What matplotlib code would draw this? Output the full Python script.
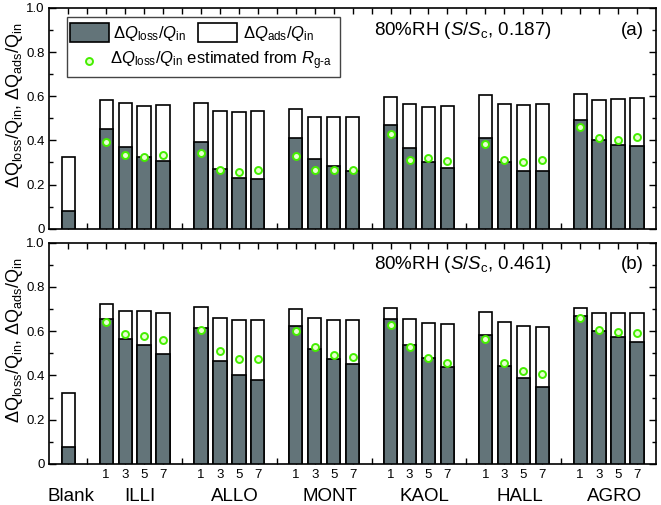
import matplotlib
matplotlib.use("Agg")
import matplotlib.pyplot as plt
from matplotlib.patches import Rectangle
from matplotlib.transforms import blended_transform_factory
from matplotlib.ticker import MultipleLocator
from matplotlib.lines import Line2D

plt.rcParams['font.family'] = ['Liberation Sans', 'DejaVu Sans']
plt.rcParams['mathtext.fontset'] = 'custom'
plt.rcParams['mathtext.rm'] = 'Liberation Sans'
plt.rcParams['mathtext.it'] = 'Liberation Sans:italic'

# donnees
groupes = ['ILLI', 'ALLO', 'MONT', 'KAOL', 'HALL', 'AGRO']
tailles = ['1', '3', '5', '7']

# panneau (a) : S/Sc = 0.187
blank_ads_a = 0.326
blank_loss_a = 0.080
ads_a = [0.581, 0.569, 0.557, 0.560,
         0.570, 0.534, 0.531, 0.534,
         0.543, 0.507, 0.504, 0.507,
         0.597, 0.564, 0.551, 0.555,
         0.606, 0.567, 0.560, 0.563,
         0.609, 0.584, 0.587, 0.590]
loss_a = [0.452, 0.368, 0.323, 0.309,
          0.394, 0.271, 0.232, 0.226,
          0.409, 0.314, 0.282, 0.261,
          0.469, 0.364, 0.302, 0.275,
          0.412, 0.300, 0.261, 0.261,
          0.493, 0.403, 0.380, 0.373]
est_a = [0.391, 0.332, 0.327, 0.332,
         0.344, 0.267, 0.258, 0.267,
         0.330, 0.264, 0.268, 0.264,
         0.427, 0.311, 0.321, 0.309,
         0.382, 0.311, 0.300, 0.311,
         0.460, 0.413, 0.401, 0.415]

# panneau (b) : S/Sc = 0.461
blank_ads_b = 0.322
blank_loss_b = 0.077
ads_b = [0.724, 0.691, 0.690, 0.681,
         0.708, 0.660, 0.651, 0.648,
         0.699, 0.660, 0.648, 0.648,
         0.703, 0.654, 0.636, 0.631,
         0.687, 0.639, 0.622, 0.619,
         0.703, 0.681, 0.681, 0.682]
loss_b = [0.655, 0.566, 0.538, 0.498,
          0.616, 0.464, 0.404, 0.377,
          0.623, 0.520, 0.474, 0.450,
          0.655, 0.539, 0.479, 0.440,
          0.583, 0.443, 0.387, 0.349,
          0.670, 0.602, 0.572, 0.550]
est_b = [0.642, 0.586, 0.580, 0.559,
         0.607, 0.508, 0.476, 0.473,
         0.601, 0.529, 0.491, 0.483,
         0.627, 0.529, 0.480, 0.456,
         0.566, 0.455, 0.419, 0.407,
         0.657, 0.605, 0.598, 0.590]

GRIS = '#637479'
VERT = '#44ee00'
LW = 1.2

# positions : Blank en 0, puis groupes de 4 barres separes par un vide
pos = [2 + 5 * g + i for g in range(len(groupes)) for i in range(len(tailles))]


def panneau(ax, blank_ads, blank_loss, ads, loss, est, texte, lettre):
    ax.bar([0] + pos, [blank_ads] + ads, width=0.7, color='white',
           edgecolor='black', linewidth=LW, zorder=2)
    ax.bar([0] + pos, [blank_loss] + loss, width=0.7, color=GRIS,
           edgecolor='black', linewidth=LW, zorder=3)
    ax.plot(pos, est, ls='none', marker='o', ms=5, mfc='#e8ffd0',
            mec=VERT, mew=1.4, zorder=4)
    ax.set_xlim(-1, 31)
    ax.set_ylim(0, 1.0)
    ax.yaxis.set_major_locator(MultipleLocator(0.2))
    ax.yaxis.set_minor_locator(MultipleLocator(0.1))
    ax.set_yticks([0, 0.2, 0.4, 0.6, 0.8, 1.0])
    ax.set_yticklabels(['0', '0.2', '0.4', '0.6', '0.8', '1.0'])
    ax.set_xticks(range(0, 31))
    ax.tick_params(axis='both', which='both', direction='in', top=True,
                   right=True, labelsize=9.5, width=1)
    ax.tick_params(axis='y', which='major', length=5)
    ax.tick_params(axis='y', which='minor', length=3)
    ax.tick_params(axis='x', which='major', length=4)
    for s in ax.spines.values():
        s.set_linewidth(1.2)
    ax.set_ylabel(r'$\mathit{Δ}$Q$_{\rm loss}$/Q$_{\rm in}$, '
                  r'$\mathit{Δ}$Q$_{\rm ads}$/Q$_{\rm in}$', fontsize=13)
    ax.yaxis.set_label_coords(-0.040, 0.56)
    ax.text(0.535, 0.9, texte, transform=ax.transAxes, fontsize=13.5,
            ha='left', va='center')
    ax.text(0.98, 0.9, lettre, transform=ax.transAxes, fontsize=13.5,
            ha='right', va='center')


fig = plt.figure(figsize=(6.61, 5.05), dpi=100)
ax1 = fig.add_axes([0.0746, 0.5471, 0.9178, 0.4371])
ax2 = fig.add_axes([0.0746, 0.0812, 0.9178, 0.4386])

panneau(ax1, blank_ads_a, blank_loss_a, ads_a, loss_a, est_a,
        r'80%RH ($\mathit{S}$/$\mathit{S}_{\rm c}$, 0.187)', '(a)')
panneau(ax2, blank_ads_b, blank_loss_b, ads_b, loss_b, est_b,
        r'80%RH ($\mathit{S}$/$\mathit{S}_{\rm c}$, 0.461)', '(b)')

ax1.set_xticklabels([])
etiq = [''] * 31
for p, t in zip(pos, tailles * len(groupes)):
    etiq[p] = t
ax2.set_xticklabels(etiq)

# noms des groupes sous l'axe
tr = blended_transform_factory(ax2.transData, ax2.transAxes)
ax2.text(0.13, -0.145, 'Blank', transform=tr, ha='center', va='center', fontsize=13.5)
for g, nom in enumerate(groupes):
    centre = sum(pos[4 * g:4 * g + 4]) / 4 + 0.3
    ax2.text(centre, -0.145, nom, transform=tr, ha='center', va='center',
             fontsize=13.5)

# legende dessinee a la main
lab_loss = r'$\mathit{ΔQ}_{\rm loss}$/$\mathit{Q}_{\rm in}$'
lab_ads = r'$\mathit{ΔQ}_{\rm ads}$/$\mathit{Q}_{\rm in}$'
lab_est = (r'$\mathit{ΔQ}_{\rm loss}$/$\mathit{Q}_{\rm in}$ estimated from '
           r'$\mathit{R}_{\rm g\text{-}a}$')
ax1.add_patch(Rectangle((0.029, 0.687), 0.45, 0.272, transform=ax1.transAxes,
                        facecolor='white', edgecolor='#444444', lw=1.0, zorder=5))
ax1.add_patch(Rectangle((0.034, 0.847), 0.065, 0.086, transform=ax1.transAxes,
                        facecolor=GRIS, edgecolor='black', lw=LW, zorder=6))
ax1.add_patch(Rectangle((0.245, 0.847), 0.065, 0.086, transform=ax1.transAxes,
                        facecolor='white', edgecolor='black', lw=LW, zorder=6))
ax1.text(0.105, 0.885, lab_loss, transform=ax1.transAxes, fontsize=12,
         va='center', ha='left', zorder=7)
ax1.text(0.319, 0.885, lab_ads, transform=ax1.transAxes, fontsize=12,
         va='center', ha='left', zorder=7)
ax1.add_line(Line2D([0.066], [0.761], transform=ax1.transAxes, ls='none',
                    marker='o', ms=5, mfc='#e8ffd0', mec=VERT, mew=1.4, zorder=7))
ax1.text(0.1, 0.761, lab_est, transform=ax1.transAxes, fontsize=12,
         va='center', ha='left', zorder=7)

fig.savefig('out.png', dpi=100)
